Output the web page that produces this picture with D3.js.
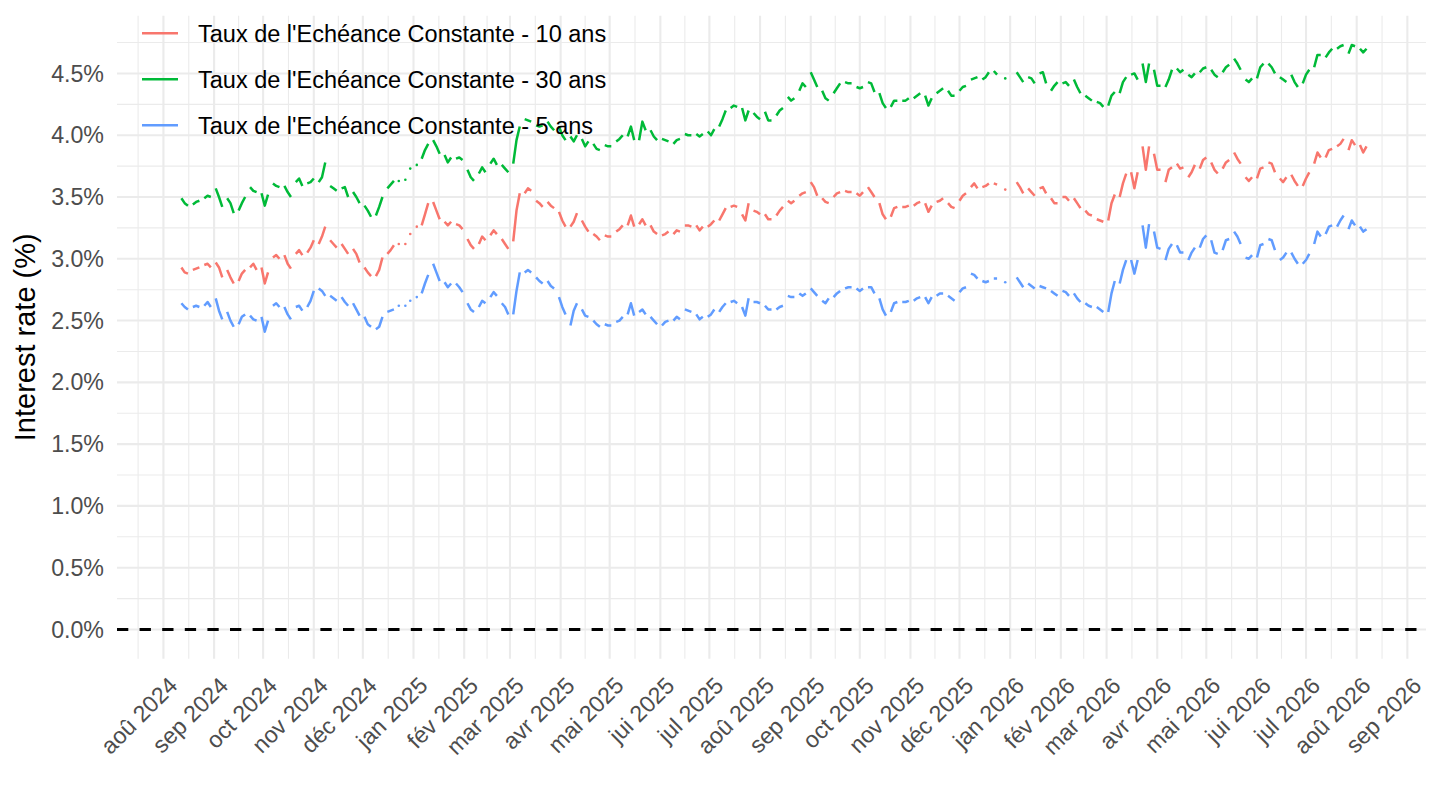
<!DOCTYPE html>
<html>
<head>
<meta charset="utf-8">
<script src="https://cdn.jsdelivr.net/npm/d3@7"></script>
<style>
  body { margin: 0; background: #fff; }
  svg { display: block; font-family: 'Liberation Sans', Arial, Helvetica, sans-serif; }
</style>
</head>
<body>
<svg width="1440" height="810"></svg>
<script>
// series labels, in ggplot's (alphabetical) legend order
const seriesNames = [
  "Taux de l'Echéance Constante - 10 ans",
  "Taux de l'Echéance Constante - 30 ans",
  "Taux de l'Echéance Constante - 5 ans"
];
const seriesColors = ['#F8766D', '#00BA38', '#619CFF'];
const monthLabels = ['jan', 'fév', 'mar', 'avr', 'mai', 'jui', 'jul', 'aoû', 'sep', 'oct', 'nov', 'déc'];
const yTicks = [0, 0.5, 1, 1.5, 2, 2.5, 3, 3.5, 4, 4.5];

// observations: business days, read as Mon / Wed / Fri of each week (null = holiday)
const firstObs = new Date(2024, 7, 9);
const firstMonday = new Date(2024, 7, 12);
const weekdayOffsets = [0, 2, 4];

const tec10 = [
  2.93, 2.89, 2.88, 2.91, 2.92, 2.93, 2.95, 2.96, 2.93, 2.97, 2.93, 2.85,
  2.91, 2.85, 2.80, 2.82, 2.88, 2.91, 2.93, 2.96, 2.91, 2.93, 2.80, 2.89,
  3.01, 3.03, 3.00, 3.03, 2.96, 2.92, 3.04, 3.07, 3.03, 3.05, 3.09, 3.15,
  3.12, 3.18, 3.26, 3.15, 3.12, 3.09, 3.12, 3.08, 3.04, 3.08, 3.04, 2.97,
  2.93, 2.89, 2.86, 2.86, 2.91, 3.01, 3.04, 3.07, 3.11, 3.12, null, 3.12,
  3.20, null, 3.26, 3.27, 3.36, 3.45, 3.46, 3.39, 3.32, 3.30, 3.27, 3.30,
  3.28, 3.27, 3.24, 3.16, 3.11, 3.08, 3.12, 3.18, 3.15, 3.19, 3.23, 3.20,
  3.16, 3.12, 3.08, 3.14, 3.39, 3.53, 3.53, 3.57, 3.55, 3.47, 3.45, 3.42,
  3.46, 3.43, 3.41, 3.38, 3.31, 3.26, 3.26, 3.30, 3.37, 3.31, 3.26, 3.22,
  3.20, 3.18, 3.15, 3.19, 3.18, 3.18, 3.22, 3.24, 3.27, 3.27, 3.35, 3.26,
  3.28, 3.32, 3.27, 3.27, 3.22, 3.20, 3.19, 3.20, 3.22, 3.20, 3.23, 3.22,
  3.27, 3.27, 3.26, 3.27, 3.23, 3.26, 3.26, 3.28, 3.31, 3.31, 3.36, 3.41,
  3.42, 3.43, 3.42, 3.36, 3.31, 3.45, 3.39, 3.38, 3.36, 3.36, 3.32, 3.32,
  3.35, 3.39, 3.42, 3.47, 3.45, 3.47, 3.51, 3.53, 3.54, 3.62, 3.58, 3.51,
  3.49, 3.46, 3.45, 3.50, 3.53, 3.54, 3.55, 3.54, 3.54, 3.53, 3.51, 3.54,
  3.58, 3.54, 3.50, 3.45, 3.36, 3.32, 3.34, 3.41, 3.42, 3.42, 3.42, 3.43,
  3.43, 3.45, 3.46, 3.45, 3.38, 3.43, 3.46, 3.47, 3.49, 3.45, 3.42, 3.41,
  3.47, 3.51, 3.53, 3.58, 3.61, 3.57, 3.58, 3.59, 3.61, 3.61, 3.60, null,
  3.56, null, null, 3.62, 3.58, 3.53, 3.57, 3.54, 3.51, 3.57, 3.58, 3.53,
  3.49, 3.45, 3.45, 3.50, 3.50, 3.47, 3.49, 3.45, 3.41, 3.39, 3.36, 3.35,
  3.32, 3.31, 3.30, 3.31, 3.45, 3.52, 3.50, 3.61, 3.69, 3.70, 3.57, 3.70,
  3.91, 3.72, 3.91, 3.85, 3.72, 3.72, 3.62, 3.72, 3.74, 3.77, 3.73, 3.74,
  3.66, 3.70, 3.76, 3.73, 3.80, 3.82, 3.78, 3.72, 3.69, 3.73, 3.78, 3.80,
  3.86, 3.81, 3.77, 3.66, 3.63, 3.66, 3.65, 3.73, 3.74, 3.78, 3.77, 3.70,
  3.65, 3.62, 3.66, 3.68, 3.63, 3.59, 3.59, 3.65, 3.70, 3.77, 3.86, 3.82,
  3.82, 3.88, 3.89, 3.91, 3.93, 3.97, 3.88, 3.96, 3.92, 3.92, 3.86, 3.91
];

const tec30 = [
  3.49, 3.45, 3.43, 3.44, 3.46, 3.47, 3.49, 3.51, 3.50, 3.57, 3.50, 3.42,
  3.49, 3.45, 3.37, 3.39, 3.45, 3.50, 3.58, 3.55, 3.54, 3.53, 3.43, 3.52,
  3.61, 3.59, 3.58, 3.59, 3.54, 3.50, 3.62, 3.65, 3.59, 3.61, 3.62, 3.65,
  3.62, 3.66, 3.78, 3.59, 3.57, 3.55, 3.57, 3.58, 3.50, 3.54, 3.50, 3.45,
  3.43, 3.39, 3.34, 3.35, 3.42, 3.50, 3.57, 3.60, 3.63, 3.63, null, 3.64,
  3.73, null, 3.76, 3.81, 3.88, 3.93, 3.96, 3.91, 3.85, 3.84, 3.78, 3.82,
  3.81, 3.82, 3.80, 3.72, 3.66, 3.63, 3.69, 3.74, 3.70, 3.77, 3.81, 3.76,
  3.76, 3.73, 3.70, 3.77, 3.96, 4.07, 4.13, 4.12, 4.11, 4.08, 4.07, 4.08,
  4.11, 4.07, 4.04, 4.07, 4.00, 3.96, 3.99, 3.95, 4.00, 3.97, 3.91, 3.95,
  3.93, 3.89, 3.88, 3.92, 3.91, 3.91, 3.95, 3.97, 4.00, 3.99, 4.07, 3.96,
  3.96, 4.11, 4.04, 4.04, 3.99, 3.96, 3.97, 3.96, 3.95, 3.93, 3.96, 3.97,
  4.01, 4.00, 4.00, 4.01, 3.99, 4.01, 4.03, 4.00, 4.05, 4.07, 4.13, 4.20,
  4.22, 4.24, 4.23, 4.22, 4.12, 4.20, 4.18, 4.15, 4.13, 4.19, 4.12, 4.12,
  4.16, 4.20, 4.22, 4.31, 4.28, 4.30, 4.36, 4.42, 4.39, 4.51, 4.45, 4.39,
  4.36, 4.30, 4.28, 4.34, 4.38, 4.42, 4.43, 4.42, 4.42, 4.39, 4.38, 4.39,
  4.43, 4.42, 4.35, 4.34, 4.26, 4.22, 4.23, 4.28, 4.28, 4.28, 4.28, 4.30,
  4.30, 4.32, 4.34, 4.32, 4.24, 4.30, 4.34, 4.36, 4.38, 4.36, 4.32, 4.32,
  4.36, 4.39, 4.40, 4.45, 4.46, 4.47, 4.45, 4.47, 4.51, 4.52, 4.49, null,
  4.46, null, null, 4.51, 4.47, 4.43, 4.47, 4.46, 4.42, 4.50, 4.51, 4.42,
  4.36, 4.40, 4.43, 4.42, 4.43, 4.40, 4.45, 4.39, 4.34, 4.32, 4.30, 4.28,
  4.27, 4.26, 4.23, 4.24, 4.32, 4.35, 4.34, 4.43, 4.47, 4.49, 4.50, 4.45,
  4.58, 4.43, 4.58, 4.53, 4.40, 4.40, 4.39, 4.45, 4.53, 4.54, 4.51, 4.53,
  4.49, 4.47, 4.50, 4.51, 4.54, 4.55, 4.53, 4.49, 4.47, 4.51, 4.55, 4.57,
  4.62, 4.58, 4.53, 4.45, 4.43, 4.46, 4.46, 4.55, 4.58, 4.58, 4.55, 4.50,
  4.47, 4.45, 4.43, 4.49, 4.43, 4.39, 4.42, 4.49, 4.53, 4.55, 4.65, 4.65,
  4.63, 4.67, 4.70, 4.70, 4.72, 4.73, 4.66, 4.73, 4.72, 4.70, 4.67, 4.70
];

const tec5 = [
  2.64, 2.61, 2.59, 2.61, 2.62, 2.61, 2.62, 2.65, 2.61, 2.68, 2.58, 2.51,
  2.57, 2.50, 2.45, 2.47, 2.53, 2.55, 2.54, 2.51, 2.50, 2.53, 2.41, 2.50,
  2.62, 2.64, 2.61, 2.61, 2.55, 2.51, 2.61, 2.62, 2.58, 2.61, 2.66, 2.74,
  2.76, 2.74, 2.70, 2.70, 2.68, 2.66, 2.69, 2.65, 2.62, 2.64, 2.59, 2.54,
  2.53, 2.47, 2.45, 2.43, 2.45, 2.53, 2.57, 2.58, 2.59, 2.62, null, 2.62,
  2.66, null, 2.69, 2.72, 2.80, 2.87, 2.96, 2.89, 2.82, 2.81, 2.77, 2.80,
  2.80, 2.77, 2.73, 2.64, 2.59, 2.57, 2.61, 2.66, 2.64, 2.69, 2.73, 2.70,
  2.64, 2.61, 2.55, 2.55, 2.74, 2.89, 2.89, 2.91, 2.89, 2.85, 2.82, 2.80,
  2.82, 2.78, 2.76, 2.69, 2.61, 2.55, 2.46, 2.58, 2.64, 2.59, 2.54, 2.53,
  2.50, 2.47, 2.45, 2.47, 2.46, 2.46, 2.49, 2.50, 2.53, 2.55, 2.64, 2.54,
  2.57, 2.59, 2.55, 2.53, 2.50, 2.47, 2.46, 2.49, 2.50, 2.50, 2.53, 2.51,
  2.59, 2.58, 2.57, 2.55, 2.51, 2.53, 2.53, 2.55, 2.59, 2.57, 2.61, 2.64,
  2.65, 2.66, 2.64, 2.61, 2.54, 2.68, 2.65, 2.65, 2.64, 2.62, 2.59, 2.59,
  2.59, 2.61, 2.62, 2.70, 2.69, 2.69, 2.72, 2.70, 2.72, 2.76, 2.73, 2.70,
  2.66, 2.64, 2.68, 2.69, 2.72, 2.74, 2.76, 2.77, 2.77, 2.76, 2.74, 2.76,
  2.77, 2.77, 2.72, 2.68, 2.59, 2.54, 2.57, 2.64, 2.65, 2.65, 2.65, 2.66,
  2.66, 2.68, 2.69, 2.69, 2.64, 2.69, 2.70, 2.72, 2.72, 2.70, 2.68, 2.66,
  2.73, 2.76, 2.77, 2.88, 2.87, 2.84, 2.82, 2.81, 2.82, 2.84, 2.84, null,
  2.81, null, null, 2.85, 2.81, 2.77, 2.80, 2.78, 2.76, 2.78, 2.77, 2.76,
  2.74, 2.72, 2.70, 2.74, 2.73, 2.70, 2.72, 2.68, 2.65, 2.64, 2.62, 2.61,
  2.61, 2.59, 2.57, 2.57, 2.72, 2.82, 2.80, 2.91, 2.99, 2.99, 2.88, 2.99,
  3.27, 3.09, 3.28, 3.22, 3.09, 3.08, 2.99, 3.08, 3.12, 3.11, 3.05, 3.05,
  2.99, 3.05, 3.09, 3.09, 3.16, 3.19, 3.15, 3.05, 3.04, 3.07, 3.15, 3.16,
  3.22, 3.18, 3.12, 3.01, 3.00, 3.03, 3.01, 3.11, 3.12, 3.16, 3.15, 3.07,
  2.99, 3.01, 3.05, 3.05, 3.00, 2.96, 2.96, 2.99, 3.04, 3.12, 3.22, 3.18,
  3.20, 3.26, 3.27, 3.26, 3.31, 3.35, 3.24, 3.31, 3.27, 3.26, 3.22, 3.24
];

const seriesValues = [tec10, tec30, tec5];

const svg = d3.select('svg');
const panel = { left: 117, right: 1426, top: 15.8, bottom: 658.7 };

// one point per sampled weekday, a break after every Friday (weekend gap)
const toPoints = (vals) => {
  const pts = [];
  for (let w = 0; w < vals.length / 3; w += 1) {
    weekdayOffsets.forEach((off, j) => {
      pts.push({ date: d3.timeDay.offset(firstMonday, w * 7 + off), value: vals[w * 3 + j] });
    });
    pts.push({ date: null, value: null });
  }
  return pts;
};
const series = seriesValues.map((vals, i) => ({
  name: seriesNames[i], color: seriesColors[i], points: toPoints(vals)
}));

const allPts = series.flatMap(s => s.points.filter(p => p.value != null));
const lastObs = d3.max(allPts, p => p.date);
const span = lastObs - firstObs;
const x = d3.scaleTime()
  .domain([new Date(+firstObs - span * 0.05), new Date(+lastObs + span * 0.05)])
  .range([panel.left, panel.right]);
const yMax = d3.max(allPts, p => p.value);
const y = d3.scaleLinear()
  .domain([-0.05 * yMax, yMax * 1.05])
  .range([panel.bottom, panel.top]);

// grid
const [d0, d1] = x.domain();
const months = d3.timeMonth.range(d3.timeMonth.offset(d3.timeMonth.floor(d0), -1), d3.timeMonth.offset(d1, 1));
const xMajor = months.filter(m => m >= d0 && m <= d1);
const xMinor = d3.pairs(months)
  .map(([a, b]) => new Date((+a + +b) / 2))
  .filter(m => m >= d0 && m <= d1);
const yMinor = yTicks.map(t => t + 0.25).filter(t => y(t) >= panel.top);

const grid = svg.append('g').attr('class', 'grid').attr('stroke', '#ebebeb');
grid.selectAll('.xminor').data(xMinor).enter().append('line')
  .attr('x1', d => x(d)).attr('x2', d => x(d))
  .attr('y1', panel.top).attr('y2', panel.bottom)
  .attr('stroke-width', 1.1);
grid.selectAll('.yminor').data(yMinor).enter().append('line')
  .attr('x1', panel.left).attr('x2', panel.right)
  .attr('y1', d => y(d)).attr('y2', d => y(d))
  .attr('stroke-width', 1.1);
grid.selectAll('.xmajor').data(xMajor).enter().append('line')
  .attr('x1', d => x(d)).attr('x2', d => x(d))
  .attr('y1', panel.top).attr('y2', panel.bottom)
  .attr('stroke-width', 2.1);
grid.selectAll('.ymajor').data(yTicks).enter().append('line')
  .attr('x1', panel.left).attr('x2', panel.right)
  .attr('y1', d => y(d)).attr('y2', d => y(d))
  .attr('stroke-width', 2.1);

// lines
const line = d3.line()
  .defined(p => p.value != null)
  .x(p => x(p.date))
  .y(p => y(p.value));

svg.append('g')
  .attr('class', 'lines')
  .selectAll('path')
  .data(series)
  .enter()
  .append('path')
  .attr('d', s => line(s.points))
  .attr('fill', 'none')
  .attr('stroke', s => s.color)
  .attr('stroke-width', 2.5)
  .attr('stroke-linejoin', 'round');

// lone holiday observations show as dots
const lone = series.flatMap(s => s.points
  .filter((p, i, a) => p.value != null && (!a[i - 1] || a[i - 1].value == null) && a[i + 1].value == null)
  .map(p => ({ p, color: s.color })));
svg.append('g')
  .attr('class', 'dots')
  .selectAll('circle')
  .data(lone)
  .enter()
  .append('circle')
  .attr('cx', d => x(d.p.date))
  .attr('cy', d => y(d.p.value))
  .attr('r', 1.3)
  .attr('fill', d => d.color);

// zero line
svg.append('line')
  .attr('x1', panel.left).attr('x2', panel.right)
  .attr('y1', y(0)).attr('y2', y(0))
  .attr('stroke', '#000')
  .attr('stroke-width', 2.8)
  .attr('stroke-dasharray', '11.3 11.3');

// axes text
svg.append('g')
  .attr('class', 'y-labels')
  .selectAll('text')
  .data(yTicks)
  .enter()
  .append('text')
  .attr('x', 104)
  .attr('y', d => y(d))
  .attr('dy', '0.35em')
  .attr('text-anchor', 'end')
  .attr('font-size', 23.2)
  .attr('fill', '#4d4d4d')
  .text(d => `${d3.format('.1f')(d)}%`);

svg.append('g')
  .attr('class', 'x-labels')
  .selectAll('text')
  .data(xMajor)
  .enter()
  .append('text')
  .attr('transform', d => `translate(${x(d) + 15.5},687) rotate(-45)`)
  .attr('text-anchor', 'end')
  .attr('font-size', 23.2)
  .attr('fill', '#4d4d4d')
  .text(d => `${monthLabels[d.getMonth()]} ${d.getFullYear()}`);

svg.append('text')
  .attr('transform', `translate(35,${(panel.top + panel.bottom) / 2}) rotate(-90)`)
  .attr('text-anchor', 'middle')
  .attr('font-size', 29)
  .attr('fill', '#000')
  .text('Interest rate (%)');

// legend
const legend = svg.append('g')
  .attr('class', 'legend')
  .selectAll('g')
  .data(series)
  .enter()
  .append('g')
  .attr('transform', (s, i) => `translate(142,${33.3 + i * 46})`);
legend.append('line')
  .attr('x1', 0).attr('x2', 36)
  .attr('stroke', s => s.color)
  .attr('stroke-width', 2.5);
legend.append('text')
  .attr('x', 56)
  .attr('dy', '0.35em')
  .attr('font-size', 23.5)
  .attr('fill', '#000')
  .text(s => s.name);
</script>
</body>
</html>
